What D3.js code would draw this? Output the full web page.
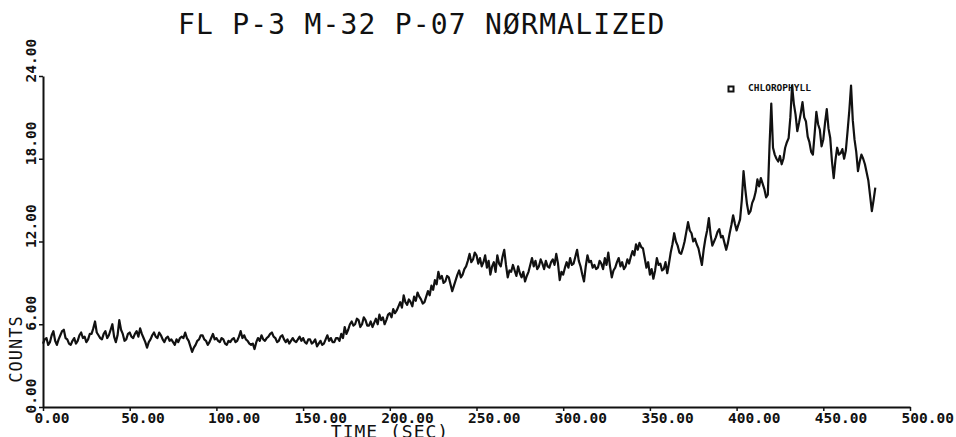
<!DOCTYPE html>
<html>
<head>
<meta charset="utf-8">
<script src="https://cdn.jsdelivr.net/npm/d3@7"></script>
<style>
  html, body { margin: 0; padding: 0; background: #fff; }
  svg { display: block; }
</style>
</head>
<body>
<svg id="chart" width="956" height="437"></svg>
<script>
// ---- data ----
const titleText = "FL P-3 M-32 P-07 NØRMALIZED";
const seriesName = "CHLOROPHYLL";
const xLabel = "TIME (SEC)";
const yLabel = "COUNTS";
const xTickValues = [0, 50, 100, 150, 200, 250, 300, 350, 400, 450, 500];
const xTickLabels = ["0.00", "50.00", "100.00", "150.00", "200.00", "250.00", "300.00", "350.00", "400.00", "450.00", "500.00"];
const yTickValues = [0, 6, 12, 18, 24];
const yTickLabels = ["0.00", "6.00", "12.00", "18.00", "24.00"];
const timeStep = 1; // seconds between samples
const counts = [
  4.6,4.9,5.0,4.5,4.7,5.2,5.5,4.8,4.5,4.9,5.2,5.5,5.6,5.0,4.9,4.6,4.5,4.8,5.0,4.6,
  4.8,5.2,5.4,5.0,5.1,4.7,4.9,5.3,5.3,5.7,6.2,5.4,5.2,5.0,4.9,5.3,5.5,5.0,5.2,5.6,
  6.0,5.1,4.7,5.2,6.3,5.6,5.3,4.8,4.9,5.3,5.4,5.1,5.0,5.3,5.5,5.1,5.7,5.3,5.0,4.7,
  4.3,4.7,4.9,5.2,5.4,5.1,5.0,5.4,5.2,4.9,4.7,5.0,5.1,4.8,4.9,4.7,4.5,4.9,4.7,5.0,
  5.1,5.0,5.4,5.0,4.8,4.4,4.0,4.3,4.5,4.8,4.9,5.2,5.2,4.9,4.8,4.5,4.7,5.0,5.3,4.9,
  5.0,4.8,4.7,5.0,4.9,4.6,4.5,4.8,4.7,4.9,5.0,4.7,4.8,5.1,5.5,5.0,5.2,4.9,4.8,4.6,
  4.5,4.6,4.2,4.7,5.0,4.8,5.2,4.9,4.8,5.0,5.1,5.3,5.4,5.1,5.0,4.7,4.8,5.1,5.2,4.9,
  4.7,4.9,4.6,4.8,5.0,4.8,4.7,4.9,5.1,4.8,5.0,4.7,4.6,4.9,4.9,4.6,4.7,4.9,4.4,4.6,
  4.8,4.5,4.6,4.9,5.2,4.8,5.0,4.7,4.7,5.0,5.0,4.8,5.3,5.0,5.8,5.3,5.6,6.0,6.2,5.9,
  6.0,6.4,6.3,5.8,6.0,6.5,6.3,5.9,5.9,6.2,5.8,6.1,6.4,6.0,6.7,6.3,6.5,6.0,6.3,6.7,
  6.8,6.5,7.1,6.8,7.0,7.3,7.6,7.2,8.1,7.6,7.4,7.8,7.6,7.3,8.0,7.7,8.3,8.0,7.8,7.5,
  7.6,8.0,8.4,8.1,8.8,8.5,9.2,8.9,9.8,9.3,9.5,9.0,9.1,9.5,9.4,8.9,8.4,8.8,9.2,9.6,
  9.9,9.4,9.6,10.0,10.2,10.6,11.1,10.5,10.7,11.2,11.0,10.4,10.8,10.2,10.5,11.0,10.1,10.6,9.6,10.2,
  10.5,9.8,11.0,10.4,10.2,10.9,11.4,10.3,9.4,9.9,9.8,10.3,9.9,9.5,10.2,9.7,9.4,9.8,9.1,9.5,
  9.8,10.3,10.8,10.2,10.6,10.0,10.2,10.7,10.4,10.0,10.6,10.2,10.1,10.5,10.7,10.3,11.1,10.4,9.2,9.8,
  9.6,10.1,10.5,10.1,10.8,10.3,10.4,10.9,11.4,10.6,10.2,9.6,9.1,10.2,11.0,10.5,10.6,10.1,10.3,10.0,
  10.1,10.6,10.4,10.0,10.8,10.3,11.2,10.2,9.4,9.9,10.1,10.5,10.8,10.2,10.5,10.0,10.2,10.7,10.4,10.9,
  11.3,11.0,11.8,11.4,11.9,11.6,11.5,10.8,10.1,10.5,9.6,10.0,9.3,9.9,10.8,10.3,10.4,9.9,10.0,10.5,
  9.7,10.4,11.2,11.8,12.6,12.0,11.7,11.2,11.1,11.5,12.0,12.7,13.4,12.8,12.6,12.0,12.2,11.8,11.5,10.9,
  10.3,11.4,12.2,12.8,13.7,12.5,11.7,12.0,12.3,12.7,12.9,12.3,12.4,11.9,11.4,11.9,12.6,13.2,13.9,13.3,
  12.8,13.2,13.6,15.0,17.1,15.8,14.7,14.0,14.2,14.8,15.1,15.6,16.5,16.0,16.6,16.2,15.8,15.2,15.4,19.0,
  22.0,18.8,18.3,18.0,17.8,18.2,17.6,18.0,18.8,19.2,19.5,21.0,23.3,22.0,21.2,20.0,20.6,21.3,22.1,21.0,
  20.7,19.6,19.2,18.5,18.3,19.8,21.4,20.5,20.1,18.9,19.4,20.6,21.6,20.2,19.5,17.8,16.6,17.9,18.8,18.3,
  18.4,18.7,18.0,18.6,20.0,21.5,23.3,20.8,19.4,18.5,17.1,17.8,18.3,18.0,17.6,17.0,16.4,15.3,14.2,15.0,
  15.9
];

// ---- chart ----
const svg = d3.select("#chart");
const ink = "#111";
const monoFont = "'DejaVu Sans Mono', 'Liberation Mono', monospace";

const x = d3.scaleLinear().domain([0, 500]).range([43, 910]);
const y = d3.scaleLinear().domain([0, 24]).range([407, 76]);

// title
svg.append("text")
  .attr("x", 178).attr("y", 34)
  .attr("text-anchor", "start")
  .attr("font-family", monoFont)
  .attr("font-size", 28)
  .attr("letter-spacing", 1.2)
  .attr("fill", ink)
  .text(titleText);

// x axis
const xAxis = d3.axisBottom(x)
  .tickValues(xTickValues)
  .tickFormat((d, i) => xTickLabels[i])
  .tickSize(4)
  .tickSizeOuter(0);
const gx = svg.append("g")
  .attr("transform", `translate(0,${y(0)})`)
  .call(xAxis);
gx.select(".domain").attr("stroke", ink).attr("stroke-width", 2);
gx.selectAll(".tick line").attr("stroke", ink).attr("stroke-width", 1.5);
gx.selectAll(".tick text")
  .attr("fill", ink)
  .attr("font-family", monoFont)
  .attr("font-size", 14.5)
  .attr("font-weight", "bold")
  .attr("text-anchor", "start")
  .attr("dx", -9)
  .attr("y", 4)
  .attr("dy", "0.85em");

// y axis
const yAxis = d3.axisLeft(y)
  .tickValues(yTickValues)
  .tickFormat((d, i) => yTickLabels[i])
  .tickSize(4)
  .tickSizeOuter(0);
const gy = svg.append("g")
  .attr("transform", `translate(${x(0)},0)`)
  .call(yAxis);
gy.select(".domain").attr("stroke", ink).attr("stroke-width", 2);
gy.selectAll(".tick line").attr("stroke", ink).attr("stroke-width", 1.5);
gy.selectAll(".tick text")
  .attr("fill", ink)
  .attr("font-family", monoFont)
  .attr("font-size", 14.5)
  .attr("font-weight", "bold")
  .attr("text-anchor", "start")
  .attr("x", null)
  .attr("dy", null)
  .attr("transform", "translate(-7,6) rotate(-90)");

// axis titles
svg.append("text")
  .attr("transform", "translate(22,349) rotate(-90)")
  .attr("text-anchor", "middle")
  .attr("font-family", monoFont)
  .attr("font-size", 17)
  .attr("letter-spacing", 1)
  .attr("fill", ink)
  .text(yLabel);

svg.append("text")
  .attr("x", 390).attr("y", 438)
  .attr("text-anchor", "middle")
  .attr("font-family", monoFont)
  .attr("font-size", 18)
  .attr("letter-spacing", 1)
  .attr("fill", ink)
  .text(xLabel);

// series line
const line = d3.line()
  .x((d, i) => x(i * timeStep))
  .y(d => y(d));
svg.append("path")
  .datum(counts)
  .attr("fill", "none")
  .attr("stroke", ink)
  .attr("stroke-width", 2.2)
  .attr("stroke-linejoin", "round")
  .attr("d", line);

// legend
svg.append("rect")
  .attr("x", 728.5).attr("y", 86.5)
  .attr("width", 5).attr("height", 5)
  .attr("fill", "none")
  .attr("stroke", ink)
  .attr("stroke-width", 2);
svg.append("text")
  .attr("x", 748).attr("y", 91)
  .attr("font-family", monoFont)
  .attr("font-size", 9.5)
  .attr("font-weight", "bold")
  .attr("fill", ink)
  .text(seriesName);
</script>
</body>
</html>
